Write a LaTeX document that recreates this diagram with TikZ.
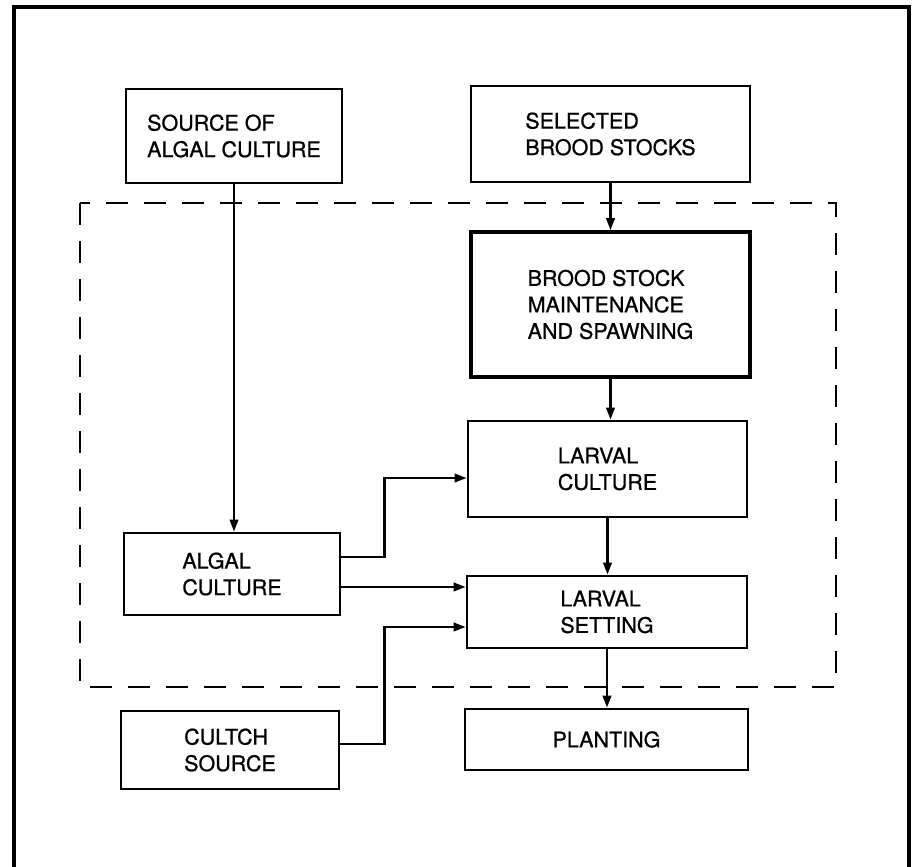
\documentclass[tikz,border=0pt]{standalone}
\usepackage{fontspec}
\setmainfont{TeX Gyre Heros}[FakeBold=0.8]
\usetikzlibrary{arrows.meta}

\begin{document}
\begin{tikzpicture}[x=1pt, y=-1pt, font=\fontsize{21.5}{26.5}\selectfont,
  box/.style={draw, line width=2.8pt, align=left, inner sep=0pt},
  link/.style={line width=2.3pt, -{Triangle[length=12pt,width=8.5pt]}}]
\useasboundingbox (0,0) rectangle (914,867);
% outer frame and hatchery boundary
\draw[line width=4.5pt] (14,867) -- (14,7) -- (909,7) -- (909,867);
\draw[line width=2.8pt, dash pattern=on 22pt off 16pt] (80,203) rectangle (836,687);
% boxes
\node[box, minimum width=216pt, minimum height=94pt] (src) at (234,136) {SOURCE OF\\ALGAL CULTURE};
\node[box, minimum width=279pt, minimum height=96pt] (sel) at (610.5,134) {SELECTED\\BROOD STOCKS};
\node[box, line width=3.6pt, minimum width=279pt, minimum height=145pt] (brood) at (610.5,304.5) {BROOD STOCK\\MAINTENANCE\\AND SPAWNING};
\node[box, minimum width=279pt, minimum height=96pt] (lcult) at (607.5,469) {LARVAL\\CULTURE};
\node[box, minimum width=216pt, minimum height=82pt] (algal) at (232,574) {ALGAL\\CULTURE};
\node[box, minimum width=280pt, minimum height=72pt] (lset) at (607,612) {LARVAL\\SETTING};
\node[box, minimum width=218pt, minimum height=78pt] (cultch) at (230,750) {CULTCH\\SOURCE};
\node[box, minimum width=283pt, minimum height=61pt] (plant) at (606.5,739.5) {PLANTING};
% flows
\draw[link] (src.south) -- (src.south |- algal.north);
\draw[link] (sel.south) -- (sel.south |- brood.north);
\draw[link] (brood.south) -- (brood.south |- lcult.north);
\draw[link] (lcult.south) -- (lcult.south |- lset.north);
\draw[link] (lset.south) -- (lset.south |- plant.north);
\draw[link] ([yshift=17pt]algal.east) -- ++(43,0) |- ([yshift=-9pt]lcult.west);
\draw[link] ([yshift=-13pt]algal.east) -- ([yshift=-13pt]algal.east -| lset.west);
\draw[link] ([yshift=6pt]cultch.east) -- ++(44,0) |- ([yshift=-15pt]lset.west);
\end{tikzpicture}
\end{document}
